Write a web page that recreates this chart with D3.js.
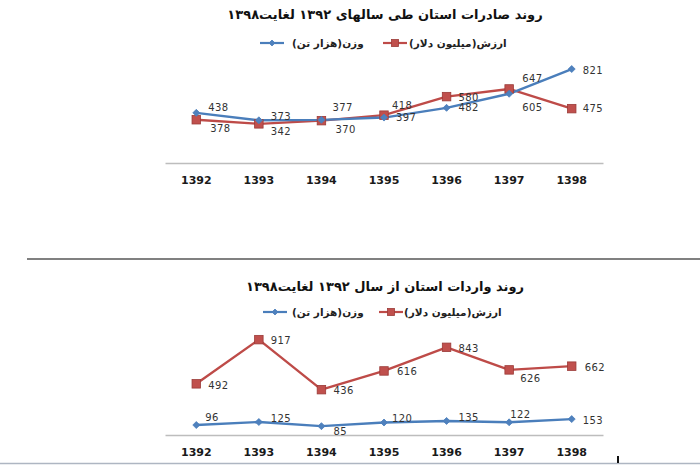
<!DOCTYPE html>
<html>
<head>
<meta charset="utf-8">
<script src="https://cdn.jsdelivr.net/npm/d3@7"></script>
<style>
    body { margin: 0; background: #fff; }
    svg { display: block; }
</style>
</head>
<body>
<svg id="main_svg" width="700" height="466"></svg>
<script>
// data
var years = ["1392", "1393", "1394", "1395", "1396", "1397", "1398"];

var export_weight = [438, 373, 377, 397, 482, 605, 821];   // هزار تن
var export_value  = [378, 342, 370, 418, 580, 647, 475];   // میلیون دلار

var import_weight = [96, 125, 85, 120, 135, 122, 153];
var import_value  = [492, 917, 436, 616, 843, 626, 662];

// legend names, pieces in visual order (left to right) so the brackets sit right
var weight_name = ["(", "هزار تن", ")", "وزن"];
var value_name  = ["(", "میلیون دلار", ")", "ارزش"];
var export_title = "روند صادرات استان طی سالهای ۱۳۹۲ لغایت۱۳۹۸";
var import_title = "روند واردات استان از سال ۱۳۹۲ لغایت۱۳۹۸";

// label placement [dx, dy] next to each point
var export_weight_lbl = [[12,-5],[12,-4],[11,-12],[12,0],[12,0],[13,14],[11,1]];
var export_value_lbl  = [[14,9],[12,8],[14,9],[8,-10],[12,1],[13,-10],[11,0]];
var import_weight_lbl = [[9,-8],[12,-4],[12,5],[8,-4],[12,-3],[1,-8],[11,1]];
var import_value_lbl  = [[12,2],[12,1],[12,1],[13,1],[12,1],[11,9],[13,1]];

var blue = "#4a7ebb", blue_fill = "#4f81bd";
var red = "#be4b48", red_fill = "#c0504d", red_edge = "#9b3b38";
var RLM = "\u200F";

var svg = d3.select("#main_svg");

function draw_chart(cfg) {
    var x = d3.scaleBand()
        .domain(years)
        .range([165, 603])
        .padding(0);

    var y = d3.scaleLinear()
        .domain([0, cfg.y_max])
        .range([cfg.axis_y, cfg.top_y]);

    var g = svg.append("g");

    // title
    g.append("text")
        .attr("x", 385)
        .attr("y", cfg.title_y)
        .attr("text-anchor", "middle")
        .style("direction", "rtl")
        .style("unicode-bidi", "embed")
        .attr("font-family", "DejaVu Sans")
        .attr("font-weight", "bold")
        .attr("font-size", "13px")
        .attr("fill", "#111")
        .text(RLM + cfg.title + RLM);

    // legend
    var legend = [
        {name: weight_name, color: blue, shape: "diamond", x: cfg.leg_x[0], tx: cfg.leg_x[1]},
        {name: value_name,  color: red,  shape: "square",  x: cfg.leg_x[2], tx: cfg.leg_x[3]}
    ];
    legend.forEach(function(l) {
        g.append("line")
            .attr("x1", l.x - 12).attr("x2", l.x + 12)
            .attr("y1", cfg.legend_y).attr("y2", cfg.legend_y)
            .attr("stroke", l.color).attr("stroke-width", 2.2);
        marker(g, l.shape, l.x, cfg.legend_y, l.shape == "square" ? 7 : 6);
        var px = l.tx;
        l.name.forEach(function(piece) {
            var t = g.append("text")
                .attr("x", px)
                .attr("y", cfg.legend_y)
                .attr("dy", "0.35em")
                .attr("font-family", "DejaVu Sans")
                .attr("font-weight", "bold")
                .attr("font-size", "10.5px")
                .attr("fill", "#222")
                .text(piece);
            px += t.node().getComputedTextLength();
        });
    });

    // x axis
    var xAxis = g.append("g")
        .attr("transform", `translate(0,${cfg.axis_y})`)
        .call(d3.axisBottom(x).tickSize(0).tickSizeOuter(0).tickPadding(13));
    xAxis.select(".domain")
        .attr("stroke", "#bdbdbd")
        .attr("stroke-width", 1.6);
    xAxis.selectAll("text")
        .attr("font-family", "DejaVu Sans")
        .attr("font-weight", "bold")
        .attr("font-size", "11px")
        .attr("fill", "#1a1a1a");

    var cx = d => x(d) + x.bandwidth() / 2;

    var series = [
        {values: cfg.value,  lbl: cfg.value_lbl,  color: red,  shape: "square"},
        {values: cfg.weight, lbl: cfg.weight_lbl, color: blue, shape: "diamond"}
    ];

    series.forEach(function(s) {
        var pts = years.map((yr, i) => [cx(yr), y(s.values[i])]);
        g.append("path")
            .attr("d", d3.line()(pts))
            .attr("fill", "none")
            .attr("stroke", s.color)
            .attr("stroke-width", 2.4)
            .attr("stroke-linejoin", "round");
    });

    series.forEach(function(s) {
        years.forEach(function(yr, i) {
            marker(g, s.shape, cx(yr), y(s.values[i]), s.shape == "square" ? 8.5 : 7);
        });
        g.selectAll(null)
            .data(s.values)
            .enter().append("text")
            .attr("x", (d, i) => cx(years[i]) + s.lbl[i][0])
            .attr("y", (d, i) => y(d) + s.lbl[i][1])
            .attr("dy", "0.35em")
            .attr("font-family", "DejaVu Sans")
            .attr("font-size", "10px")
            .attr("letter-spacing", "0.4px")
            .attr("fill", "#333")
            .text(d => d);
    });
}

function marker(g, shape, px, py, size) {
    if (shape == "square") {
        g.append("rect")
            .attr("x", px - size / 2).attr("y", py - size / 2)
            .attr("width", size).attr("height", size)
            .attr("fill", red_fill)
            .attr("stroke", red_edge).attr("stroke-width", 0.8);
    } else {
        var h = size / 2;
        g.append("path")
            .attr("d", `M${px},${py - h}L${px + h},${py}L${px},${py + h}L${px - h},${py}Z`)
            .attr("fill", blue_fill)
            .attr("stroke", blue).attr("stroke-width", 0.8);
    }
}

draw_chart({
    title: export_title, title_y: 19, legend_y: 43, leg_x: [272, 292, 395, 409],
    weight: export_weight, value: export_value,
    weight_lbl: export_weight_lbl, value_lbl: export_value_lbl,
    y_max: 900, axis_y: 163, top_y: 60
});

draw_chart({
    title: import_title, title_y: 291, legend_y: 312, leg_x: [275, 292, 391, 404],
    weight: import_weight, value: import_value,
    weight_lbl: import_weight_lbl, value_lbl: import_value_lbl,
    y_max: 1000, axis_y: 435, top_y: 331
});

// separators of the page
svg.append("line")
    .attr("x1", 27).attr("x2", 700).attr("y1", 259).attr("y2", 259)
    .attr("stroke", "#808080").attr("stroke-width", 2);
svg.append("line")
    .attr("x1", 0).attr("x2", 700).attr("y1", 463.5).attr("y2", 463.5)
    .attr("stroke", "#aeb6c2").attr("stroke-width", 1.5);
svg.append("line")
    .attr("x1", 618).attr("x2", 618).attr("y1", 456).attr("y2", 463)
    .attr("stroke", "#111").attr("stroke-width", 2);
</script>
</body>
</html>
